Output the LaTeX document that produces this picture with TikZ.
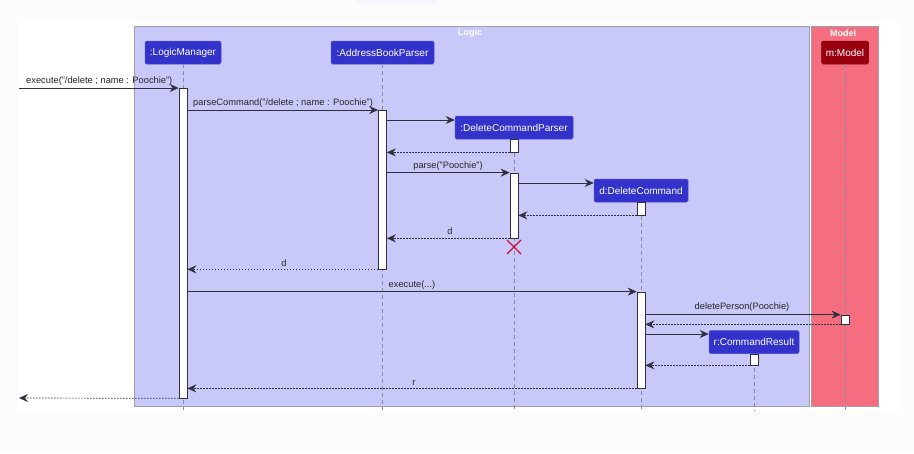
\documentclass[tikz,border=0pt]{standalone}
\usepackage{fontspec}
\setmainfont{Liberation Sans}
\usetikzlibrary{arrows.meta}
\definecolor{pagebg}{HTML}{FCFCFC}
\definecolor{logicfill}{HTML}{C9C9F9}
\definecolor{boxline}{HTML}{A0A0AC}
\definecolor{modelfill}{HTML}{F56E7F}
\definecolor{partblue}{HTML}{3333CC}
\definecolor{partblueline}{HTML}{4A4AD8}
\definecolor{partred}{HTML}{99000F}
\definecolor{msgline}{HTML}{303040}
\definecolor{lifegray}{HTML}{8A8AA0}
\definecolor{xred}{HTML}{C8103C}
\tikzset{
  x=1pt, y=-1pt,
  part/.style={draw=partblueline, fill=partblue, rounded corners=1.5pt, text=white,
    font=\fontsize{10}{12}\selectfont, inner sep=0pt, minimum height=23pt, line width=0.5pt},
  modelpart/.style={part, fill=partred, draw=partred!80!black},
  life/.style={draw=lifegray, dashed, dash pattern=on 4pt off 3pt, line width=0.6pt},
  actbar/.style={draw=msgline, fill=white, line width=0.7pt},
  msg/.style={draw=msgline, line width=0.7pt, -{Stealth[length=9pt,width=8pt,inset=3pt]}},
  ret/.style={msg, dash pattern=on 1.5pt off 1.5pt},
  lbl/.style={font=\fontsize{9.3}{11}\selectfont, text=black!85, inner sep=1pt},
  grouptitle/.style={font=\bfseries\fontsize{9}{10}\selectfont, text=white, inner sep=0pt}
}
\begin{document}
\begin{tikzpicture}
\useasboundingbox (0,0) rectangle (914,453);
\fill[pagebg] (0,0) rectangle (914,453);
\fill[white] (18,21) rectangle (900,413);
\draw[draw=black!6, fill=black!2!blue!4, rounded corners=3pt] (358,-6) rectangle (436,4);
% groups
\draw[fill=logicfill, draw=boxline, line width=0.8pt] (134,26) rectangle (809,406);
\draw[fill=modelfill, draw=boxline, line width=0.8pt] (811,26) rectangle (878,406);
\node[grouptitle] (tlogic) at (470,33) {Logic};
\node[grouptitle] (tmodel) at (843,33) {Model};
% participants
\node[part, minimum width=76pt] (lm) at (183,52.5) {:LogicManager};
\node[part, minimum width=103pt] (abp) at (382.5,52.5) {:AddressBookParser};
\node[part, minimum width=118pt] (dcp) at (514,127.5) {:DeleteCommandParser};
\node[part, minimum width=94pt] (dc) at (641,190.5) {d:DeleteCommand};
\node[part, minimum width=90pt] (cr) at (754,342) {r:CommandResult};
\node[modelpart, minimum width=47pt] (mm) at (845,52.5) {m:Model};
% lifelines
\coordinate (lmE) at (183,410); \coordinate (abpE) at (382.5,410);
\coordinate (dcpE) at (514,410); \coordinate (dcE) at (641,410);
\coordinate (crE) at (754,410); \coordinate (mmE) at (845,410);
\draw[life] (lm.south) -- (lmE);
\draw[life] (abp.south) -- (abpE);
\draw[life] (dcp.south) -- (dcpE);
\draw[life] (dc.south) -- (dcE);
\draw[life] (cr.south) -- (crE);
\draw[life] (mm.south) -- (mmE);
% activation bars
\node[actbar, inner sep=0pt, minimum width=8pt, minimum height=310pt] (alm) at (183,243) {};
\node[actbar, inner sep=0pt, minimum width=8pt, minimum height=159pt] (aabp) at (382.5,189.5) {};
\node[actbar, inner sep=0pt, minimum width=8pt, minimum height=13pt] (adcp1) at (514,145.5) {};
\node[actbar, inner sep=0pt, minimum width=8pt, minimum height=65pt] (adcp2) at (514,205.5) {};
\node[actbar, inner sep=0pt, minimum width=8pt, minimum height=13pt] (adc1) at (641,208.5) {};
\node[actbar, inner sep=0pt, minimum width=8pt, minimum height=96pt] (adc2) at (641,340) {};
\node[actbar, inner sep=0pt, minimum width=8pt, minimum height=11pt] (acr) at (754,359.5) {};
\node[actbar, inner sep=0pt, minimum width=8pt, minimum height=9pt] (amm) at (845,319.5) {};
% free ends
\coordinate (in) at (19,88);
\coordinate (out) at (19,398);
% messages
\draw[msg] (in) -- (in -| alm.west);
\node[lbl, anchor=south west] (l1) at (25,87) {execute("/delete ; name : Poochie")};
\draw[msg] (alm.east |- 0,110) -- (aabp.west |- 0,110);
\node[lbl, anchor=south west] (l2) at (192,109) {parseCommand("/delete ; name : Poochie")};
\draw[msg] (aabp.east |- 0,120) -- (dcp.west |- 0,120);
\draw[ret] (adcp1.south west) -- (aabp.east |- adcp1.south);
\draw[msg] (aabp.east |- adcp2.north) -- (adcp2.north west);
\node[lbl, anchor=south] (l3) at (448,172) {parse("Poochie")};
\draw[msg] (adcp2.east |- 0,183) -- (dc.west |- 0,183);
\draw[ret] (adc1.south west) -- (adcp2.east |- adc1.south);
\draw[ret] (adcp2.south west) -- (aabp.east |- adcp2.south);
\node[lbl, anchor=south] (l4) at (450,236) {d};
\draw[xred, line width=1.2pt] (507,240) -- (521,254) (507,254) -- (521,240);
\draw[ret] (aabp.south west) -- (alm.east |- aabp.south);
\node[lbl, anchor=south] (l5) at (284,268) {d};
\draw[msg] (alm.east |- adc2.north) -- (adc2.north west);
\node[lbl, anchor=south] (l6) at (412,291) {execute(...)};
\draw[msg] (adc2.east |- amm.north) -- (amm.north west);
\node[lbl, anchor=south] (l7) at (742,313) {deletePerson(Poochie)};
\draw[ret] (amm.south west) -- (adc2.east |- amm.south);
\draw[msg] (adc2.east |- 0,334) -- (cr.west |- 0,334);
\draw[ret] (acr.south west) -- (adc2.east |- acr.south);
\draw[ret] (adc2.south west) -- (alm.east |- adc2.south);
\node[lbl, anchor=south] (l8) at (414,387) {r};
\draw[ret] (alm.south west) -- (out);
\end{tikzpicture}
\end{document}
